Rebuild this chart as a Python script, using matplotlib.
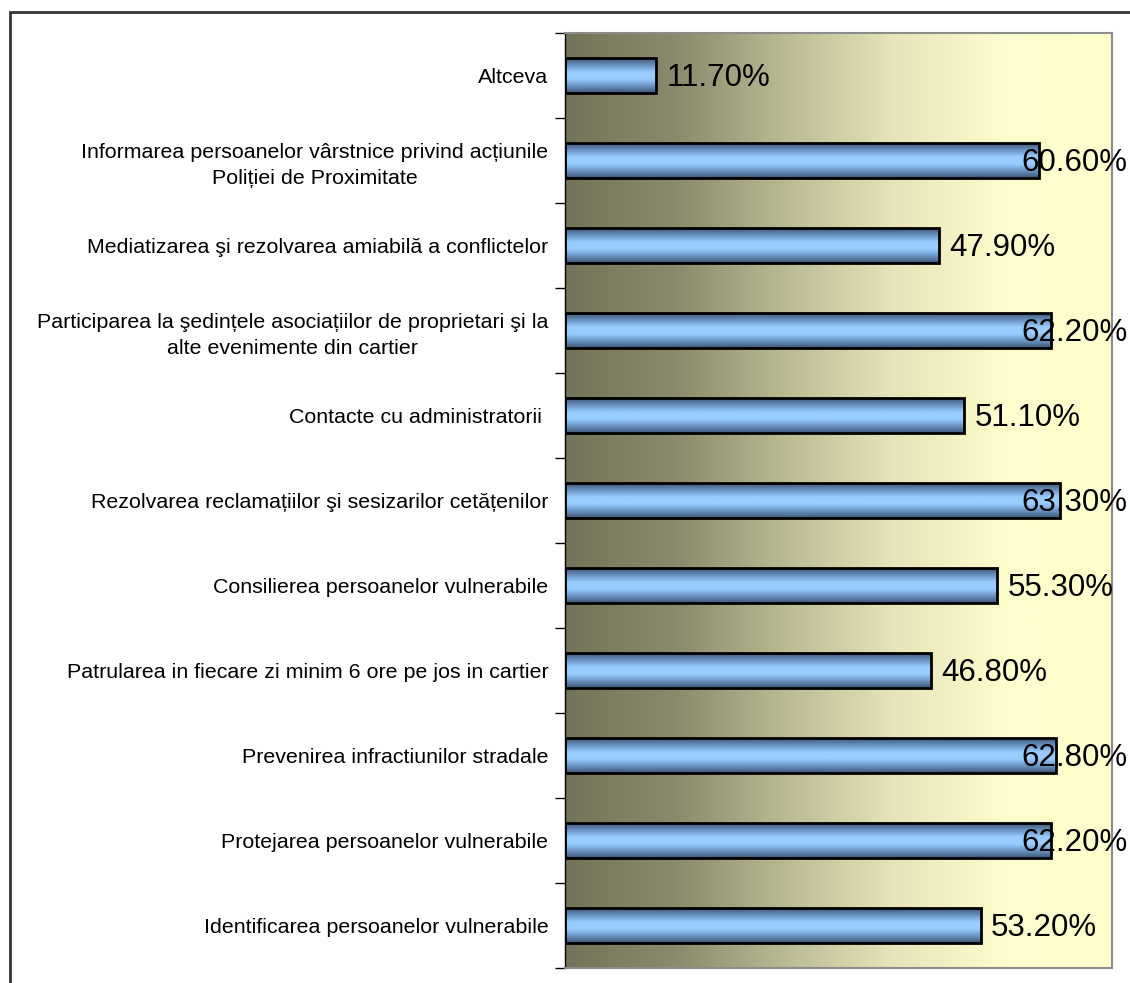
import numpy as np
import matplotlib
matplotlib.use("Agg")
import matplotlib.pyplot as plt
from matplotlib.colors import LinearSegmentedColormap
from matplotlib.patches import Rectangle

plt.rcParams['font.family'] = ['Liberation Sans', 'DejaVu Sans']

# bottom to top
categories = [
    "Identificarea persoanelor vulnerabile",
    "Protejarea persoanelor vulnerabile",
    "Prevenirea infractiunilor stradale",
    "Patrularea in fiecare zi minim 6 ore pe jos in cartier",
    "Consilierea persoanelor vulnerabile",
    "Rezolvarea reclamațiilor şi sesizarilor cetățenilor",
    "Contacte cu administratorii ",
    "Participarea la şedințele asociațiilor de proprietari şi la\nalte evenimente din cartier",
    "Mediatizarea şi rezolvarea amiabilă a conflictelor",
    "Informarea persoanelor vârstnice privind acțiunile\nPoliției de Proximitate",
    "Altceva",
]
values = [53.2, 62.2, 62.8, 46.8, 55.3, 63.3, 51.1, 62.2, 47.9, 60.6, 11.7]

fig = plt.figure(figsize=(11.3, 9.83), dpi=100)
ax = fig.add_axes([565/1130, 1-968/983, (1112-565)/1130, (968-33)/983])

y = np.arange(len(categories))
ax.set_xlim(0, 70)
ax.set_ylim(-0.5, len(categories) - 0.5)

# background gradient
bg = LinearSegmentedColormap.from_list("bg", ["#737359", "#8a8a6c", "#b9b993", "#e6e4b8", "#fdfccc", "#ffffcc"])
grad = np.linspace(0, 1, 256).reshape(1, -1)
ax.imshow(grad, cmap=bg, aspect='auto', extent=[0, 70, -0.5, len(categories) - 0.5], zorder=0)

bars = ax.barh(y, values, height=0.41, color='none', edgecolor='black', linewidth=2, zorder=3)

barcm = LinearSegmentedColormap.from_list("bar", ["#3f5777", "#6a94c4", "#99ccff", "#99ccff", "#6a94c4", "#3f5777"])
vgrad = np.linspace(0, 1, 64).reshape(-1, 1)
for b in bars:
    x0, y0 = b.get_x(), b.get_y()
    w, h = b.get_width(), b.get_height()
    im = ax.imshow(vgrad, cmap=barcm, aspect='auto', extent=[x0, x0 + w, y0, y0 + h], zorder=2)
    im.set_clip_path(b)

for yi, v in zip(y, values):
    ax.text(min(v + 1.3, 58.4), yi - 0.03, f"{v:.2f}%", va='center', ha='left', fontsize=22.5,
            color='black', zorder=4, clip_on=False)

ax.set_yticks(y)
ax.set_yticklabels(categories, fontsize=15.4, multialignment='center', linespacing=1.4)
ax.set_yticks(np.arange(-0.5, len(categories)), minor=True)
ax.tick_params(axis='y', which='major', length=0, pad=12)
ax.tick_params(axis='y', which='minor', length=7, width=1, color='black', direction='out')
ax.set_xticks([])

for s in ['top', 'right', 'bottom']:
    ax.spines[s].set_color('#8c8c8c')
    ax.spines[s].set_linewidth(1.5)
ax.spines['left'].set_color('black')
ax.spines['left'].set_linewidth(1)

# outer border
fig.patches.append(Rectangle((10/1130, -0.05), 1.2, (983-12)/983 + 0.05, transform=fig.transFigure,
                             fill=False, edgecolor='#333333', linewidth=2))

fig.savefig("out.png", dpi=100)
